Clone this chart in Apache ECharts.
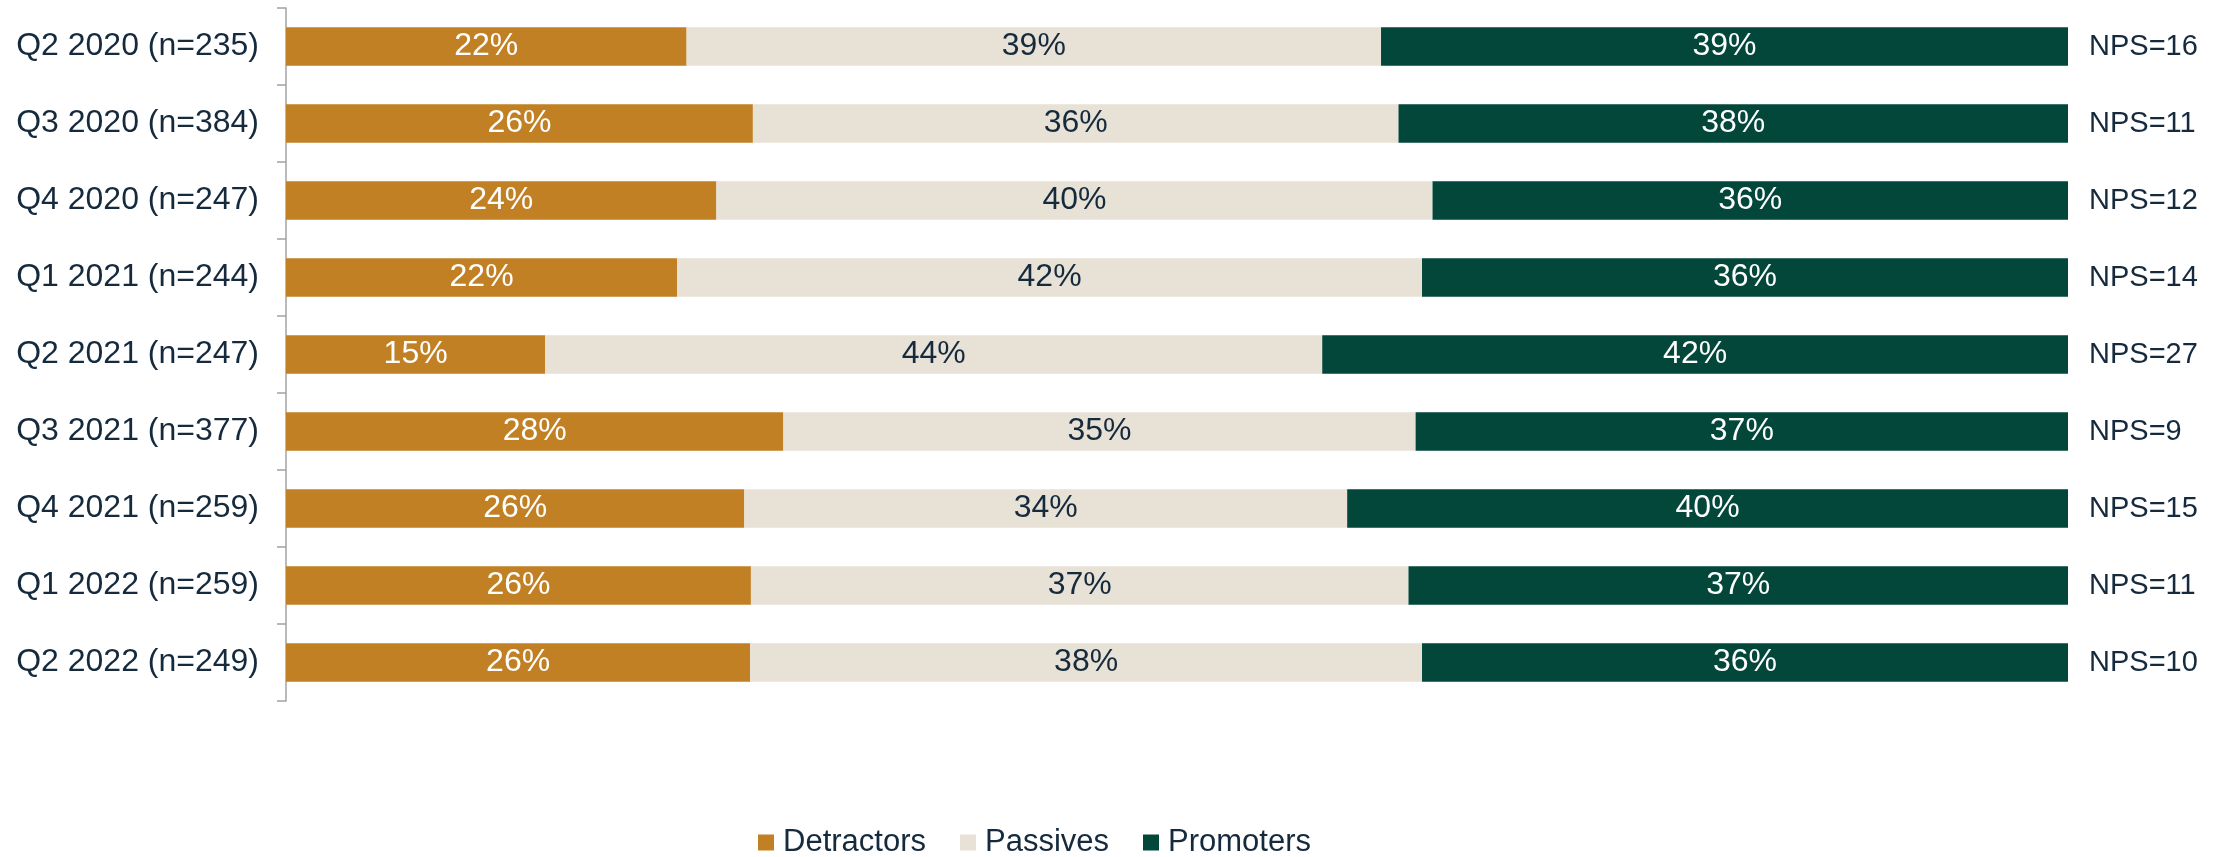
<!DOCTYPE html>
<html>
<head>
<meta charset="utf-8">
<title>Net Promoter Score by quarter</title>
<script src="https://cdn.jsdelivr.net/npm/echarts@6/dist/echarts.min.js"></script>
<style>
  html, body { margin: 0; padding: 0; background: #ffffff; }
  #chart { width: 2220px; height: 857px; }
</style>
</head>
<body>
<div id="chart"></div>
<script>
// Survey waves (top to bottom)
const quarters = [
  'Q2 2020 (n=235)', 'Q3 2020 (n=384)', 'Q4 2020 (n=247)',
  'Q1 2021 (n=244)', 'Q2 2021 (n=247)', 'Q3 2021 (n=377)',
  'Q4 2021 (n=259)', 'Q1 2022 (n=259)', 'Q2 2022 (n=249)'
];

// Share of respondents in each group, percent
const detractors = [22.48, 26.20, 24.15, 21.95, 14.55, 27.91, 25.72, 26.09, 26.05];
const passives   = [38.97, 36.23, 40.19, 41.80, 43.60, 35.48, 33.83, 36.90, 37.70];
const promoters  = [38.55, 37.57, 35.66, 36.25, 41.85, 36.61, 40.45, 37.01, 36.25];

// Net Promoter Score shown at the end of each bar
const npsLabels = ['NPS=16', 'NPS=11', 'NPS=12', 'NPS=14', 'NPS=27', 'NPS=9', 'NPS=15', 'NPS=11', 'NPS=10'];

const FONT = "'Liberation Sans', Arial, Helvetica, sans-serif";
const TEXT = '#152a3c';
const COLORS = { det: '#c18024', pas: '#e7e1d6', pro: '#02473a' };

function segment(name, values, color, labelColor) {
  return {
    name: name,
    type: 'bar',
    stack: 'share',
    yAxisIndex: 0,
    barWidth: '50%',
    data: values,
    itemStyle: { color: color },
    label: {
      show: true,
      position: 'inside',
      color: labelColor,
      fontFamily: FONT,
      fontSize: 32,
      formatter: p => Math.round(p.value) + '%'
    },
    emphasis: { disabled: true }
  };
}

const chart = echarts.init(document.getElementById('chart'), null, { renderer: 'canvas' });

chart.setOption({
  animation: false,
  backgroundColor: '#ffffff',
  textStyle: { fontFamily: FONT },
  grid: { left: 286, right: 152, top: 8, bottom: 156, containLabel: false },
  legend: {
    left: 758,
    top: 827,
    padding: 0,
    itemWidth: 16,
    itemHeight: 16,
    itemGap: 34,
    icon: 'rect',
    textStyle: { fontFamily: FONT, fontSize: 31, color: TEXT, padding: [0, 0, 0, 4] },
    data: ['Detractors', 'Passives', 'Promoters']
  },
  xAxis: { type: 'value', min: 0, max: 100, show: false },
  yAxis: [
    {
      type: 'category',
      inverse: true,
      data: quarters,
      axisLine: { show: true, lineStyle: { color: '#a3a3a6', width: 1.5 } },
      axisTick: { show: true, length: 9, lineStyle: { color: '#a3a3a6', width: 1.5 } },
      axisLabel: { fontFamily: FONT, fontSize: 32, color: TEXT, margin: 27 },
      splitLine: { show: false }
    },
    {
      type: 'category',
      inverse: true,
      position: 'right',
      data: npsLabels,
      axisLine: { show: false },
      axisTick: { show: false },
      axisLabel: { fontFamily: FONT, fontSize: 29, color: TEXT, margin: 21, padding: [0, 0, 18, 0] },
      splitLine: { show: false }
    }
  ],
  series: [
    segment('Detractors', detractors, COLORS.det, '#ffffff'),
    segment('Passives', passives, COLORS.pas, TEXT),
    segment('Promoters', promoters, COLORS.pro, '#ffffff')
  ]
});
</script>
</body>
</html>
